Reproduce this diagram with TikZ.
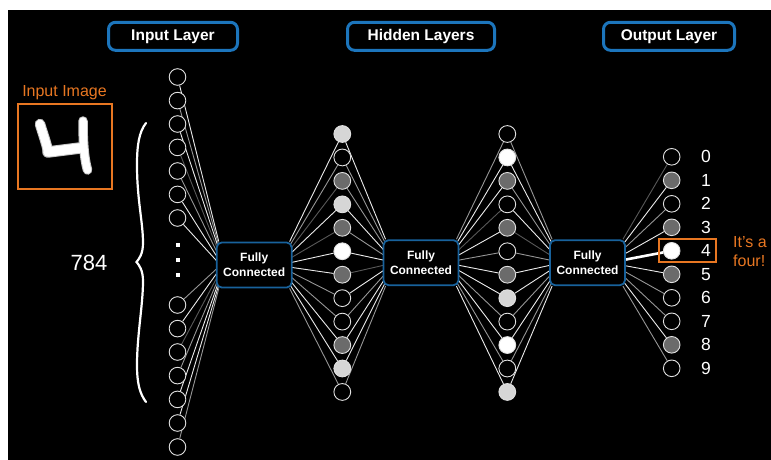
\documentclass[tikz,border=0pt]{standalone}
\usepackage{fontspec}
\setmainfont{Liberation Sans}
\usetikzlibrary{calc}
\pgfdeclarelayer{back}
\pgfdeclarelayer{wires}
\pgfsetlayers{back,wires,main}

\definecolor{boxblue}{RGB}{28,117,188}
\definecolor{fcblue}{RGB}{24,98,156}
\definecolor{accent}{RGB}{232,119,34}
\definecolor{darkn}{RGB}{107,107,107}
\definecolor{lightn}{RGB}{214,214,214}
\definecolor{rim}{RGB}{225,225,225}
\definecolor{wirew}{RGB}{235,235,235}
\definecolor{wireg}{RGB}{150,150,150}
\definecolor{wired}{RGB}{88,88,88}

\tikzset{
  neuron/.style={circle, draw=rim, line width=0.9pt, minimum size=16.8pt, inner sep=0pt},
  tone E/.style={fill=black},
  tone D/.style={fill=darkn},
  tone L/.style={fill=lightn},
  tone W/.style={fill=white},
  fcbox/.style={rectangle, rounded corners=5pt, draw=fcblue, line width=1.8pt, fill=black,
    minimum width=75pt, minimum height=45pt, inner sep=0pt, text=white, align=center,
    font=\fontsize{12}{15}\selectfont\bfseries},
  titlebox/.style={rectangle, rounded corners=7pt, draw=boxblue, line width=3pt, fill=black,
    minimum height=28pt, inner sep=0pt, text=white, font=\fontsize{15.5}{18}\selectfont\bfseries},
  digit/.style={text=white, inner sep=0pt, font=\fontsize{17.5}{20}\selectfont},
  note/.style={text=accent, inner sep=0pt, font=\fontsize{16}{19}\selectfont},
  dotsq/.style={rectangle, fill=white, minimum size=4pt, inner sep=0pt},
  link w/.style={draw=wirew, line width=0.9pt},
  link g/.style={draw=wireg, line width=0.9pt},
  link d/.style={draw=wired, line width=0.9pt},
  link t/.style={draw=white, line width=2.6pt},
}

\begin{document}
\begin{tikzpicture}[x=1pt,y=-1pt]
\useasboundingbox (0,0) rectangle (771,460);
\begin{pgfonlayer}{back}
  \fill[white] (0,0) rectangle (771,460);
  \fill[black] (8,10) rectangle (771,460);
\end{pgfonlayer}

% layer titles
\node[titlebox, minimum width=129pt] (tin) at (173,36.3) {Input Layer};
\node[titlebox, minimum width=147pt] (thid) at (421,36.3) {Hidden Layers};
\node[titlebox, minimum width=131pt] (tout) at (669,36.3) {Output Layer};

% input image: a hand-written four
\node[note, anchor=base] (imgcap) at (64.5,96.7) {Input Image};
\node[rectangle, draw=accent, line width=2pt, minimum width=94pt, minimum height=85pt, inner sep=0pt] (img) at (65,146.5) {};
\begin{scope}[line cap=round, line join=round]
  \foreach \w/\c in {10.5/gray!45, 8.5/white} {
    \draw[\c, line width=\w pt] (40,124) .. controls (43,134) and (46,142) .. (48,151);
    \draw[\c, line width=\w pt+1pt] (48,152) -- (80,148);
    \draw[\c, line width=\w pt-1pt] (83,121) .. controls (83,140) and (84,158) .. (87.5,170);
  }
\end{scope}

% input size brace
\draw[white, line width=2.2pt, line cap=round]
  (146,123) .. controls (139,132) and (137,145) .. (137,165)
  .. controls (137,200) and (143,222) .. (143,243)
  .. controls (143,254) and (139,259) .. (136.5,262)
  .. controls (139,265) and (143,270) .. (143,281)
  .. controls (143,305) and (137,335) .. (137,365)
  .. controls (137,384) and (140,394) .. (146,402);
\node[text=white, inner sep=0pt, font=\fontsize{22}{26}\selectfont] (count) at (89,263) {784};

% input neurons
\foreach \y [count=\i from 0] in {77,100.6,124,147.4,171,194.4,218,305,328.6,352,375.6,399.4,423,447}
  \node[neuron, tone E, minimum size=16.6pt] (in\i) at (177.5,\y) {};
\node[dotsq] (d1) at (178,245) {};
\node[dotsq] (d2) at (178,260) {};
\node[dotsq] (d3) at (178,275) {};

% fully connected blocks
\node[fcbox] (fc1) at (254.2,265) {Fully\\Connected};
\node[fcbox] (fc2) at (421,262.7) {Fully\\Connected};
\node[fcbox] (fc3) at (587.5,262.7) {Fully\\Connected};

% hidden layers
\foreach \f [count=\i from 0] in {L,E,D,L,D,W,D,E,E,D,L,E}
  \node[neuron, tone \f] (ha\i) at (342.3,{134+23.45*\i}) {};
\foreach \f [count=\i from 0] in {E,W,D,E,D,E,D,L,E,W,E,L}
  \node[neuron, tone \f] (hb\i) at (507.3,{134+23.45*\i}) {};

% output layer
\foreach \f [count=\i from 0] in {E,D,E,D,W,D,E,E,D,E}
  \node[neuron, tone \f, minimum size=16.6pt] (out\i) at (671.7,{156.8+23.5*\i}) {};
\foreach \i in {0,...,9}
  \node[digit] (lab\i) at (706,{156.8+23.5*\i}) {\i};

\node[rectangle, draw=accent, line width=2.2pt, minimum width=56.5pt, minimum height=23.5pt, inner sep=0pt] (pick) at (687.5,250.5) {};
\node[note, anchor=base west] (say1) at (733,247) {It’s a};
\node[note, anchor=base west] (say2) at (733,266) {four!};

% connections
\begin{pgfonlayer}{wires}
  \foreach \c [count=\i from 0] in {w,g,w,d,g,w,w,g,w,d,g,w,w,g}
    \draw[link \c] (in\i) -- ($(fc1.north west)!{\i/13}!(fc1.south west)+(3,0)$);
  \foreach \c [count=\i from 0] in {w,g,d,w,d,w,w,g,g,w,w,g}
    \draw[link \c] (ha\i) -- ($(fc1.north east)!{\i/11}!(fc1.south east)+(-3,0)$);
  \foreach \c [count=\i from 0] in {w,g,g,w,g,w,d,w,g,w,w,g}
    \draw[link \c] (ha\i) -- ($(fc2.north west)!{\i/11}!(fc2.south west)+(3,0)$);
  \foreach \c [count=\i from 0] in {g,w,w,d,w,g,w,w,g,w,g,w}
    \draw[link \c] (hb\i) -- ($(fc2.north east)!{\i/11}!(fc2.south east)+(-3,0)$);
  \foreach \c [count=\i from 0] in {g,w,g,w,d,g,w,w,g,w,g,w}
    \draw[link \c] (hb\i) -- ($(fc3.north west)!{\i/11}!(fc3.south west)+(3,0)$);
  \foreach \c [count=\i from 0] in {d,w,g,w,t,w,g,g,w,g}
    \draw[link \c] (out\i) -- ($(fc3.north east)!{\i/9}!(fc3.south east)+(-3,0)$);
\end{pgfonlayer}
\end{tikzpicture}
\end{document}
